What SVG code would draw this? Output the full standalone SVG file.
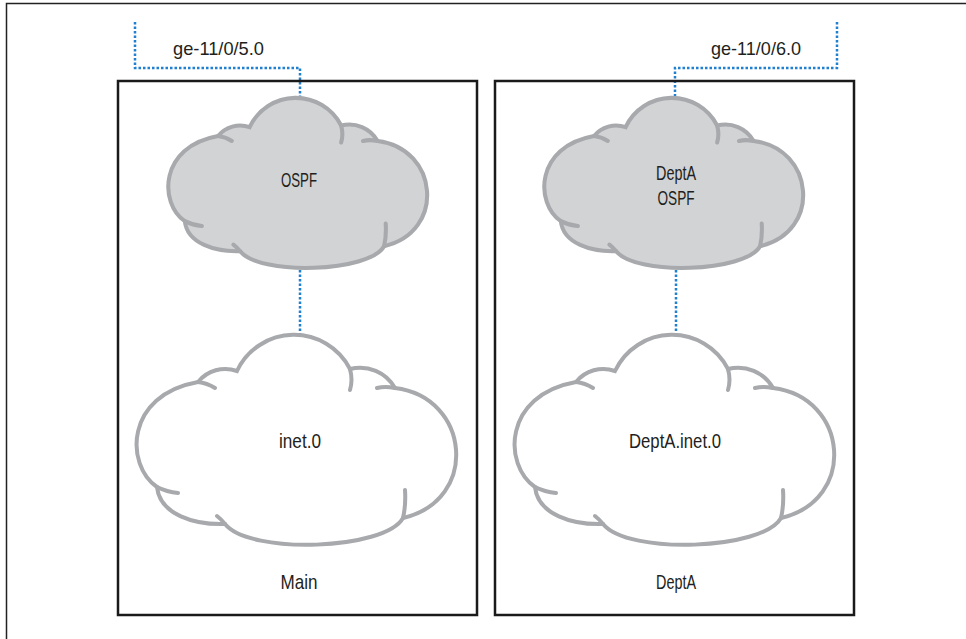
<svg xmlns="http://www.w3.org/2000/svg" xmlns:xlink="http://www.w3.org/1999/xlink" width="966" height="639" viewBox="0 0 966 639">
<style>
.frame{fill:none;stroke:#222;stroke-width:1.5}
.box{fill:none;stroke:#1a1a1a;stroke-width:2.5}
.link{fill:none;stroke:#1f7fd0;stroke-width:2.5;stroke-dasharray:2.5 2}
.gray{fill:#d1d3d4;stroke:#a7a9ac;stroke-width:5}
.white{fill:#fff;stroke:#a7a9ac;stroke-width:4}
.tail{fill:none;stroke-linecap:round}
text{font-family:"Liberation Sans Narrow","Liberation Sans",Arial,sans-serif;fill:#231f20;text-anchor:middle}
.lbl{font-size:19px}
.cl{font-size:21px}
</style>
<defs>
<g id="cloud">
<path d="M 63 47 A 35 35 0 0 1 102 36 A 63 63 0 0 1 215 34 A 40 40 0 0 1 260 53 C 335 62 345 165 268 183 C 250 215 115 220 90 189 C 60 190 25 180 22 152 C -10 130 -10 60 63 47 Z"/>
<path class="tail" d="M 63 47 Q 72 48 80 53 M 215 34 Q 218 45 215 55 M 260 53 Q 250 51 242 53 M 268 183 Q 271 170 270 155 M 90 189 Q 86 184 82 181 M 22 152 Q 32 157 43 158"/>
</g>
</defs>
<path class="frame" d="M 966 3.5 H 6.5 V 639"/>
<g id="connectors">
<path class="link" d="M 135 22 V 68 H 300 V 97"/>
<path class="link" d="M 300 270 V 335"/>
<path class="link" d="M 837 22 V 68 H 675 V 97"/>
<path class="link" d="M 676 270 V 335"/>
</g>
<g id="label-ge5"><text class="lbl" x="218.5" y="55" textLength="91" lengthAdjust="spacingAndGlyphs">ge-11/0/5.0</text></g>
<g id="label-ge6"><text class="lbl" x="756" y="55" textLength="90" lengthAdjust="spacingAndGlyphs">ge-11/0/6.0</text></g>
<g id="main">
<rect class="box" x="118" y="81" width="359" height="534"/>
<text class="cl" x="299" y="589" textLength="37" lengthAdjust="spacingAndGlyphs">Main</text>
</g>
<g id="depta">
<rect class="box" x="495" y="81" width="359" height="534"/>
<text class="cl" x="676" y="589" textLength="40" lengthAdjust="spacingAndGlyphs">DeptA</text>
</g>
<g id="ospf-main">
<use xlink:href="#cloud" href="#cloud" class="gray" transform="translate(167,98) scale(0.81)"/>
<text class="cl" x="299" y="187" textLength="36" lengthAdjust="spacingAndGlyphs">OSPF</text>
</g>
<g id="inet0">
<use xlink:href="#cloud" href="#cloud" class="white" transform="translate(135,335)"/>
<text class="cl" x="300" y="448" textLength="42" lengthAdjust="spacingAndGlyphs">inet.0</text>
</g>
<g id="ospf-depta">
<use xlink:href="#cloud" href="#cloud" class="gray" transform="translate(543,98) scale(0.81)"/>
<text class="cl" x="676" y="180" textLength="40" lengthAdjust="spacingAndGlyphs">DeptA</text>
<text class="cl" x="676" y="205" textLength="37" lengthAdjust="spacingAndGlyphs">OSPF</text>
</g>
<g id="depta-inet0">
<use xlink:href="#cloud" href="#cloud" class="white" transform="translate(513,335)"/>
<text class="cl" x="675" y="448" textLength="92" lengthAdjust="spacingAndGlyphs">DeptA.inet.0</text>
</g>
</svg>
